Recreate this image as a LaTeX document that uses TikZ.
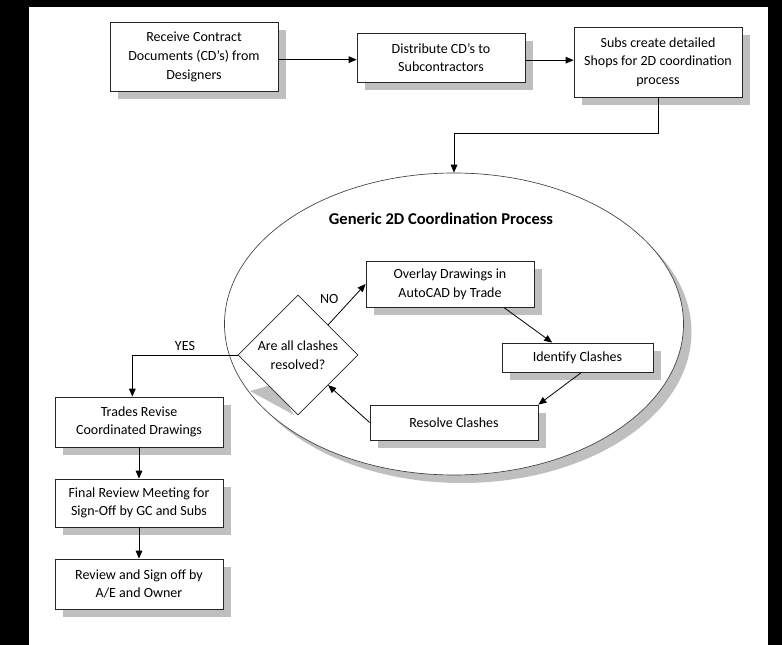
\documentclass[tikz,border=0pt]{standalone}
\usepackage{fontspec}
\setmainfont{Carlito}
\usetikzlibrary{arrows.meta}
\usetikzlibrary{shapes.geometric}
\usetikzlibrary{shadows}

\begin{document}
\begin{tikzpicture}[x=0.75pt, y=-0.75pt,
  txt/.style={font=\fontsize{10.5}{14}\selectfont},
  shade/.style={drop shadow={shadow xshift=6pt, shadow yshift=-6pt, fill=black!25, opacity=1}},
  box/.style={txt, draw=black!85, line width=0.6pt, fill=white, align=center, inner sep=2pt, shade},
  arr/.style={-{Triangle[length=6pt,width=5pt]}, line width=0.6pt}]
  % frame
  \fill [black] (0,0) rectangle (782,645);
  \fill [white] (29,7) rectangle (768,645);
  % coordination loop
  \node [ellipse, draw=black!75, line width=0.5pt, fill=white, inner sep=0pt,
    minimum width=344.25pt, minimum height=226.5pt, shade] (proc) at (454,324) {};
  \node [font=\bfseries\fontsize{12.4}{14}\selectfont] (title) at (441,219) {Generic 2D Coordination Process};
  \fill [black!25] (250,391) -- (275,384) -- (294,415) -- cycle;
  \node [diamond, txt, draw=black!85, line width=0.6pt, fill=white, align=center, inner sep=0pt,
    minimum width=90pt, minimum height=90pt] (check) at (298,355) {Are all clashes\\resolved?};
  \node [box, minimum width=126pt, minimum height=34.5pt] (overlay) at (450,284) {Overlay Drawings in\\AutoCAD by Trade};
  \node [box, minimum width=113.25pt, minimum height=21.75pt] (identify) at (577.5,357.5) {Identify Clashes};
  \node [box, minimum width=126pt, minimum height=26.25pt] (resolve) at (454,422.5) {Resolve Clashes};
  % top row
  \node [box, minimum width=126pt, minimum height=51.75pt] (receive) at (194,57) {Receive Contract\\Documents (CD’s) from\\Designers};
  \node [box, minimum width=126pt, minimum height=36.75pt] (distribute) at (441,57.5) {Distribute CD’s to\\Subcontractors};
  \node [box, minimum width=126pt, minimum height=52.5pt] (shops) at (658,62) {Subs create detailed\\Shops for 2D coordination\\process};
  % left column
  \node [box, minimum width=126pt, minimum height=37.5pt] (trades) at (139,422) {Trades Revise\\Coordinated Drawings};
  \node [box, minimum width=126pt, minimum height=36pt] (final) at (139,503) {Final Review Meeting for\\Sign-Off by GC and Subs};
  \node [box, minimum width=126pt, minimum height=37.5pt] (review) at (139,584) {Review and Sign off by\\A/E and Owner};
  % connectors
  \draw [arr] ([yshift=-2pt]receive.east) -- ([yshift=-2pt]receive.east -| distribute.west);
  \draw [arr] ([yshift=-2pt]distribute.east) -- ([yshift=-2pt]distribute.east -| shops.west);
  \draw [arr] (shops.south) -- ++(0,36) -| (proc.north);
  \draw [arr] (check.north east) -- node (no) [txt, pos=0.4, above left] {NO} (overlay.west);
  \draw [arr] ([xshift=-23pt]overlay.south east) -- ([xshift=-19pt]identify.north);
  \draw [arr] ([xshift=3pt]identify.south) -- (resolve.north east);
  \draw [arr] (resolve.west) -- (check.south east);
  \draw [arr] (check.west) -| node (yes) [txt, pos=0.25, above] {YES} ([xshift=-5pt]trades.north);
  \draw [arr] (trades.south) -- (final.north);
  \draw [arr] (final.south) -- (review.north);
\end{tikzpicture}
\end{document}
